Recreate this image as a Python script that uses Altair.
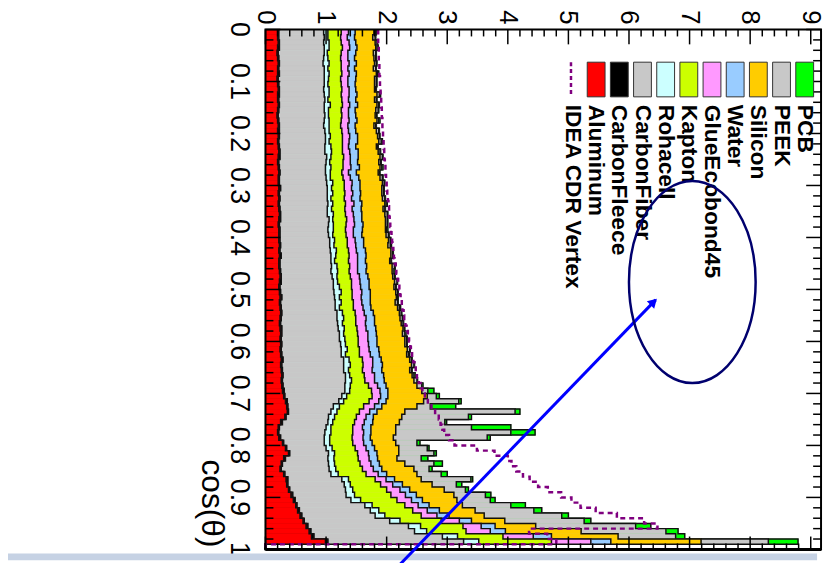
import altair as alt
import numpy as np
import pandas as pd

# ---------------- data (100 bins in cos(theta), 0.01 wide) ----------------
aluminum = [
 .20,.20,.21,.20,.19,.20,.21,.20,.20,.19, .20,.21,.20,.20,.21,.20,.19,.20,.21,.20,
 .21,.20,.21,.22,.21,.20,.21,.22,.21,.21, .22,.21,.22,.21,.22,.23,.22,.21,.22,.22,
 .22,.23,.22,.23,.22,.22,.23,.24,.23,.22, .23,.24,.23,.24,.25,.24,.23,.24,.25,.24,
 .25,.24,.25,.26,.25,.26,.27,.26,.27,.28, .30,.33,.35,.36,.32,.25,.21,.20,.22,.28,
 .33,.38,.30,.26,.24,.30,.34,.35,.38,.42, .46,.50,.53,.57,.62,.67,.72,.76,.99,0]
fleece = [
 .02,.02,.02,.03,.02,.02,.02,.02,.03,.02, .02,.02,.03,.02,.02,.02,.02,.02,.02,.03,
 .02,.02,.02,.02,.03,.02,.02,.02,.02,.02, .03,.02,.02,.02,.02,.02,.03,.02,.02,.02,
 .02,.02,.02,.03,.02,.02,.02,.02,.03,.02, .02,.03,.02,.02,.02,.02,.02,.03,.02,.02,
 .02,.02,.02,.03,.02,.02,.02,.02,.02,.03, .02,.03,.02,.02,.02,.03,.02,.02,.03,.02,
 .02,.02,.03,.02,.02,.02,.03,.02,.02,.03, .03,.02,.03,.03,.02,.03,.03,.04,.04,0]
carbon_fiber = [
 .74,.75,.73,.74,.76,.74,.72,.75,.74,.76, .75,.73,.74,.76,.74,.75,.77,.75,.73,.75,
 .76,.77,.75,.74,.77,.78,.76,.75,.77,.78, .77,.79,.78,.80,.78,.77,.80,.81,.79,.80,
 .82,.81,.83,.82,.84,.85,.83,.84,.86,.88, .88,.87,.90,.89,.91,.92,.94,.93,.95,.96,
 .97,.99,.98,1.00,1.02,1.01,1.03,1.04,1.02,1.00, .94,.85,.75,.70,.70,.75,.77,.76,.72,.67,
 .65,.64,.70,.76,.79,.76,.89,.93,.92,.88, .92,1.12,1.17,1.21,1.41,1.66,1.71,2.12,2.24,0]
rohacell = [
 .07,.06,.09,.08,.05,.07,.10,.06,.08,.07, .06,.09,.08,.05,.10,.07,.06,.08,.09,.07,
 .08,.06,.10,.11,.07,.06,.09,.08,.07,.10, .07,.09,.06,.08,.07,.10,.06,.08,.09,.07,
 .08,.07,.10,.08,.06,.09,.11,.08,.07,.10, .12,.08,.10,.07,.09,.11,.08,.10,.07,.09,
 .08,.10,.07,.09,.11,.08,.07,.10,.09,.08, .08,.08,.10,.10,.10,.08,.08,.10,.09,.09,
 .10,.10,.10,.10,.11,.12,.11,.10,.12,.14, .16,.12,.14,.16,.17,.20,.20,.25,.25,0]
kapton = [
 .22,.21,.20,.22,.23,.21,.20,.22,.21,.20, .22,.21,.20,.23,.20,.21,.22,.20,.19,.21,
 .20,.22,.19,.18,.21,.22,.20,.19,.21,.19, .21,.20,.22,.21,.22,.20,.23,.21,.20,.22,
 .21,.22,.20,.22,.23,.21,.19,.22,.23,.20, .18,.21,.20,.23,.21,.20,.22,.21,.23,.22,
 .21,.20,.23,.22,.21,.23,.24,.22,.30,.36, .42,.42,.40,.37,.36,.36,.36,.36,.37,.38,
 .38,.38,.40,.42,.44,.46,.44,.50,.56,.60, .60,.54,.56,.60,.68,.70,.65,.75,1.20,0]
glue = [
 .12,.11,.13,.12,.11,.12,.13,.11,.12,.12, .11,.12,.13,.11,.12,.12,.11,.13,.12,.11,
 .12,.11,.10,.12,.11,.12,.13,.11,.12,.13, .12,.13,.12,.14,.12,.13,.12,.14,.13,.12,
 .13,.14,.13,.14,.15,.13,.14,.15,.14,.15, .16,.15,.14,.16,.15,.17,.16,.15,.17,.16,
 .17,.16,.18,.17,.16,.16,.17,.16,.15,.14, .14,.16,.18,.17,.16,.16,.16,.18,.18,.18,
 .18,.18,.18,.18,.18,.20,.18,.20,.22,.24, .24,.22,.24,.26,.30,.30,.40,.50,.65,0]
water = [
 .11,.12,.11,.12,.13,.11,.12,.11,.12,.13, .12,.11,.13,.12,.13,.11,.12,.13,.12,.12,
 .13,.14,.12,.14,.13,.12,.14,.13,.14,.13, .14,.13,.14,.13,.15,.14,.13,.14,.15,.14,
 .14,.13,.15,.14,.13,.15,.14,.14,.15,.14, .14,.15,.14,.13,.15,.14,.15,.16,.14,.15,
 .14,.16,.15,.14,.16,.16,.15,.16,.14,.13, .12,.12,.12,.12,.12,.14,.14,.12,.12,.14,
 .14,.14,.14,.14,.14,.14,.14,.16,.16,.18, .18,.18,.20,.20,.20,.23,.25,.30,.33,0]
silicon = [
 .31,.30,.32,.31,.29,.32,.30,.31,.33,.31, .32,.31,.33,.31,.32,.34,.32,.33,.31,.34,
 .33,.35,.34,.33,.36,.35,.34,.36,.35,.37, .36,.35,.37,.38,.36,.38,.39,.37,.38,.40,
 .41,.40,.42,.41,.40,.42,.43,.41,.42,.41, .42,.43,.41,.44,.43,.42,.44,.45,.43,.46,
 .46,.47,.45,.47,.48,.46,.47,.49,.51,.56, .65,.62,.58,.46,.47,.44,.41,.41,.38,.39,
 .40,.36,.32,.42,.53,.50,.44,.49,.57,.62, .57,.55,.59,.58,.55,.67,1.25,1.10,1.49,0]
peek = [
 .03,.04,.03,.02,.04,.03,.03,.04,.02,.03, .03,.02,.04,.03,.03,.04,.02,.03,.03,.04,
 .03,.04,.02,.03,.04,.03,.03,.02,.04,.03, .03,.03,.04,.02,.03,.04,.03,.03,.02,.04,
 .03,.04,.03,.03,.02,.04,.03,.03,.04,.03, .03,.02,.04,.03,.03,.04,.03,.02,.04,.03,
 .03,.04,.03,.03,.04,.03,.03,.05,.08,.10, .15,.58,.22,1.82,1.10,.75,1.25,1.90,1.55,.35,
 .47,.58,.40,.48,.25,.40,.82,.40,.35,.52, .55,.80,.97,1.28,1.31,1.65,1.40,.95,1.11,0]
pcb = [
 .01,.01,.01,.02,.01,.01,.01,.01,.02,.01, .01,.01,.02,.01,.01,.01,.01,.02,.01,.01,
 .01,.02,.01,.01,.01,.01,.02,.01,.01,.01, .01,.01,.01,.02,.01,.01,.01,.01,.02,.01,
 .01,.02,.01,.01,.01,.01,.02,.01,.01,.01, .01,.01,.01,.02,.01,.01,.01,.01,.02,.01,
 .01,.01,.02,.01,.01,.01,.02,.01,.02,.10, .05,.04,.42,.08,.05,.03,.65,.40,.05,.05,
 .03,.04,.11,.14,.05,.10,.03,.09,.05,.09, .08,.24,.13,.11,.11,.25,.20,.15,.49,0]
idea_cdr = [
 1.86,1.86,1.86,1.87,1.87,1.87,1.88,1.88,1.88,1.89, 1.89,1.90,1.90,1.91,1.91,1.92,1.92,1.93,1.93,1.94,
 1.94,1.95,1.95,1.96,1.96,1.97,1.98,1.98,1.99,2.00, 2.00,2.01,2.02,2.03,2.04,2.04,2.05,2.06,2.07,2.08,
 2.09,2.10,2.11,2.12,2.13,2.15,2.16,2.18,2.19,2.21, 2.22,2.23,2.25,2.26,2.28,2.29,2.31,2.33,2.35,2.37,
 2.39,2.40,2.42,2.44,2.46,2.48,2.50,2.53,2.56,2.59, 2.63,2.68,2.74,2.80,2.86,2.89,2.92,2.95,3.03,3.12,
 3.49,3.78,4.00,4.06,4.14,4.25,4.36,4.50,4.66,4.88, 5.05,5.20,5.45,5.80,6.25,6.47,4.35,4.65,4.80,0]

materials = ["Aluminum", "CarbonFleece", "CarbonFiber", "Rohacell", "Kapton",
             "GlueEcobond45", "Water", "Silicon", "PEEK", "PCB"]
fills = ["#ff0000", "#000000", "#c8c8c8", "#ccffff", "#ccff00",
         "#ff99ff", "#99ccff", "#ffcc00", "#c8c8c8", "#00ff00"]
series = [aluminum, fleece, carbon_fiber, rohacell, kapton, glue, water,
          silicon, peek, pcb]
idea_label = "IDEA CDR Vertex"

x_tick_labels = [0, 1, 2, 3, 4, 5, 6, 7, 8, 9]
x_tick_text = ["0", "1", "2", "3", "4", "5", "6", "7", "8", "9"]
y_tick_labels = [0, 0.1, 0.2, 0.3, 0.4, 0.5, 0.6, 0.7, 0.8, 0.9, 1]
y_tick_text = ["0", "0.1", "0.2", "0.3", "0.4", "0.5", "0.6", "0.7", "0.8", "0.9", "1"]
x_title = "cos(θ)"

# ---------------- helpers ----------------
W, H = 561, 525
edges = np.round(np.linspace(0, 1, 101), 4)


def step_frame(vals):
    v = np.asarray(vals, float)
    y = np.repeat(edges, 2)[1:-1]
    x = np.repeat(v, 2)
    return pd.DataFrame({"cos": y, "val": x, "idx": np.arange(len(x))})


def bin_frame(vals):
    return pd.DataFrame({"lo": edges[:-1], "hi": edges[1:],
                         "zero": 0.0, "val": np.asarray(vals, float)})


XS = alt.Scale(domain=[0, 9.17], nice=False, zero=False)
YS = alt.Scale(domain=[0, 1], nice=False, zero=False, reverse=True)
FONT = "Liberation Sans"

cum = np.cumsum(np.array(series, dtype=float), axis=0)

layers = []
# stacked histograms: draw outermost cumulative first (ROOT THStack style)
for i in reversed(range(len(materials))):
    layers.append(
        alt.Chart(bin_frame(cum[i])).mark_rect(
            color=fills[i], stroke=fills[i], strokeWidth=0.6, opacity=1
        ).encode(
            x=alt.X("zero:Q", scale=XS, axis=None), x2="val:Q",
            y=alt.Y("lo:Q", scale=YS, axis=None), y2="hi:Q",
        )
    )
    layers.append(
        alt.Chart(step_frame(cum[i])).mark_line(
            color="#111111", strokeWidth=1.5, interpolate="linear"
        ).encode(
            x=alt.X("val:Q", scale=XS, axis=None),
            y=alt.Y("cos:Q", scale=YS, axis=None),
            order=alt.Order("idx:Q"),
        )
    )

idea_line = alt.Chart(step_frame(idea_cdr)).mark_line(
    color="#7f007f", strokeWidth=2.5, strokeDash=[5, 4], interpolate="linear"
).encode(
    x=alt.X("val:Q", scale=XS, axis=None),
    y=alt.Y("cos:Q", scale=YS, axis=None),
    order=alt.Order("idx:Q"),
)
layers.append(idea_line)

# ---------------- tick marks (inside the frame, ROOT style) ----------------
x_major = pd.DataFrame({"t": x_tick_labels, "lab": x_tick_text})
x_minor = pd.DataFrame({"t": [round(0.2 * i, 1) for i in range(1, 46) if i % 5]})
y_major = pd.DataFrame({"t": y_tick_labels, "lab": y_tick_text})
y_minor = pd.DataFrame({"t": [round(0.02 * i, 2) for i in range(1, 50) if i % 5]})


def xticks(df, y0, y1):
    return alt.Chart(df).mark_rule(color="black", strokeWidth=1.5).encode(
        x=alt.X("t:Q", scale=XS, axis=None), y=alt.value(y0), y2=alt.value(y1))


def yticks(df, x0, x1):
    return alt.Chart(df).mark_rule(color="black", strokeWidth=1.5).encode(
        y=alt.Y("t:Q", scale=YS, axis=None), x=alt.value(x0), x2=alt.value(x1))


layers += [
    xticks(x_major, 0, 15), xticks(x_minor, 0, 7),
    xticks(x_major, H, H - 13), xticks(x_minor, H, H - 6),
    yticks(y_major, 0, 15), yticks(y_minor, 0, 8),
    yticks(y_major, W, W - 15), yticks(y_minor, W, W - 8),
]

# tick labels (rotated like the rest of the figure)
x_labels = alt.Chart(x_major).mark_text(
    angle=90, align="right", baseline="middle", fontSize=26, font=FONT, color="black"
).encode(x=alt.X("t:Q", scale=XS, axis=None), y=alt.value(-5), text="lab:N")
y_labels = alt.Chart(y_major).mark_text(
    angle=90, align="center", baseline="top", fontSize=27, font=FONT, color="black"
).encode(y=alt.Y("t:Q", scale=YS, axis=None), x=alt.value(-14), text="lab:N")
one = pd.DataFrame({"k": [0]})
title = alt.Chart(one).mark_text(
    text=x_title, angle=90, align="right", baseline="middle", fontSize=32,
    font=FONT, color="black"
).encode(x=alt.value(-54), y=alt.value(H - 2))
layers += [x_labels, y_labels, title]

frame = alt.Chart(one).mark_rect(fillOpacity=0, stroke="black", strokeWidth=2).encode(
    x=alt.value(0), x2=alt.value(W), y=alt.value(0), y2=alt.value(H))
bottom_line = alt.Chart(one).mark_rule(color="black", strokeWidth=3).encode(
    x=alt.value(0), x2=alt.value(W), y=alt.value(H))
layers += [frame, bottom_line]

# ---------------- legend (rotated, drawn by hand) ----------------
LEG_X0, LEG_DX = 310.5, 23.4
for slot, (name, col) in enumerate(zip(materials, fills), start=1):
    cx = LEG_X0 + LEG_DX * slot
    layers.append(alt.Chart(one).mark_rect(
        color=col, stroke="#333333", strokeWidth=1, opacity=1
    ).encode(x=alt.value(cx - 9), x2=alt.value(cx + 9),
             y=alt.value(33), y2=alt.value(68)))
    layers.append(alt.Chart(one).mark_text(
        text=name, angle=90, align="left", baseline="middle", fontSize=23,
        fontWeight="bold", font=FONT, color="black"
    ).encode(x=alt.value(cx), y=alt.value(76)))
layers.append(alt.Chart(one).mark_rule(
    color="#7f007f", strokeWidth=2.5, strokeDash=[4, 3]
).encode(x=alt.value(LEG_X0 - 2), y=alt.value(33), y2=alt.value(66)))
layers.append(alt.Chart(one).mark_text(
    text=idea_label, angle=90, align="left", baseline="middle", fontSize=23,
    fontWeight="bold", font=FONT, color="black"
).encode(x=alt.value(LEG_X0), y=alt.value(76)))

# ---------------- annotations ----------------
band = alt.Chart(one).mark_rect(color="#c6d2e4").encode(
    x=alt.value(-260), x2=alt.value(557), y=alt.value(529), y2=alt.value(536))
arrow = alt.Chart(one).mark_rule(color="#0000ff", strokeWidth=3).encode(
    x=alt.value(136), y=alt.value(540), x2=alt.value(394), y2=alt.value(273))
arrow_head = alt.Chart(one).mark_point(
    shape="triangle-up", filled=True, color="#0000ff", size=110, angle=45, opacity=1
).encode(x=alt.value(392), y=alt.value(275))
ellipse_path = ("M 0.627 0 C 0.627 0.5523 0.3463 1 0 1 C -0.3463 1 -0.627 0.5523 -0.627 0 "
                "C -0.627 -0.5523 -0.3463 -1 0 -1 C 0.3463 -1 0.627 -0.5523 0.627 0 Z")
ellipse = alt.Chart(one).mark_point(
    shape=ellipse_path, filled=False, color="#00006e", strokeWidth=2.5,
    size=41616, opacity=1
).encode(x=alt.value(431), y=alt.value(255))
layers += [band, arrow, arrow_head, ellipse]

chart = alt.layer(*layers).properties(
    width=W, height=H,
    padding={"left": 260, "top": 19, "right": 4, "bottom": 11},
    autosize=alt.AutoSizeParams(type="none"),
).configure_view(strokeWidth=0)

chart.save("out.html", embed_options={"renderer": "svg", "actions": False})
